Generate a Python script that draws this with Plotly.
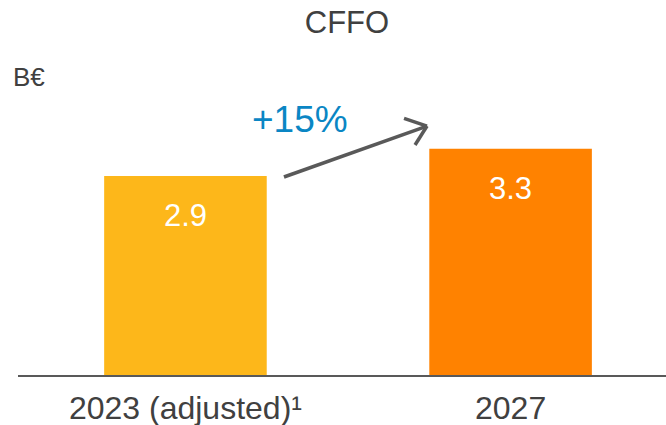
import plotly.graph_objects as go

categories = ["2023 (adjusted)¹", "2027"]
values = [2.9, 3.3]
value_labels = ["2.9", "3.3"]
bar_colors = ["#FDB71A", "#FF8200"]
title_text = "CFFO"
unit_text = "B€"
growth_text = "+15%"

FONT = "Liberation Sans, Arial, sans-serif"
GREY = "#404040"

fig = go.Figure()
fig.add_trace(go.Bar(
    x=[0, 1], y=values, width=0.5,
    marker=dict(color=bar_colors, line=dict(width=0)),
    hoverinfo="skip",
))

for i, (v, lab) in enumerate(zip(values, value_labels)):
    fig.add_annotation(x=i, y=v, text=lab, showarrow=False, xref="x", yref="y",
                       yanchor="top", yshift=-20,
                       font=dict(family=FONT, size=31, color="white"))

# growth arrow
arrow_color = "#595959"
x0, y0, x1, y1 = 0.303, 2.887, 0.743, 3.63
fig.add_shape(type="line", x0=x0, y0=y0, x1=x1, y1=y1, xref="x", yref="y",
              line=dict(color=arrow_color, width=3.5))
fig.add_shape(type="line", x0=x1, y0=y1, x1=(404 - 185.5) / 325, y1=(375 - 118.3) / 68.58,
              xref="x", yref="y", line=dict(color=arrow_color, width=3.5))
fig.add_shape(type="line", x0=x1, y0=y1, x1=(415 - 185.5) / 325, y1=(375 - 145) / 68.58,
              xref="x", yref="y", line=dict(color=arrow_color, width=3.5))
fig.add_annotation(x=0.352, y=3.72, text=growth_text, showarrow=False, xref="x", yref="y",
                   font=dict(family=FONT, size=37, color="#0A86C4"))

fig.add_annotation(x=0, y=0.946, xref="paper", yref="paper", text=unit_text, showarrow=False,
                   xanchor="left", yanchor="middle", xshift=-7,
                   font=dict(family=FONT, size=26, color=GREY))

fig.update_layout(
    width=666, height=425,
    margin=dict(l=18, r=0, t=60, b=50, autoexpand=False),
    paper_bgcolor="white", plot_bgcolor="white",
    showlegend=False,
    title=dict(text=title_text, x=0.521, xref="container", y=1 - 22 / 425, yref="container",
               xanchor="center", yanchor="middle",
               font=dict(family=FONT, size=31, color=GREY)),
    xaxis=dict(range=[-0.515, 1.478], tickmode="array", tickvals=[0, 1], ticktext=categories,
               showline=True, linecolor="#595959", linewidth=2, showgrid=False, zeroline=False,
               ticks="", ticklabelstandoff=4, tickfont=dict(family=FONT, size=32, color=GREY),
               fixedrange=True, automargin=False),
    yaxis=dict(range=[0, 315 / 68.58], visible=False, showgrid=False, zeroline=False, fixedrange=True),
)

fig.write_html("out.html", config={"displayModeBar": False},
               post_script="document.body.style.margin='0';document.body.style.overflow='hidden';")
